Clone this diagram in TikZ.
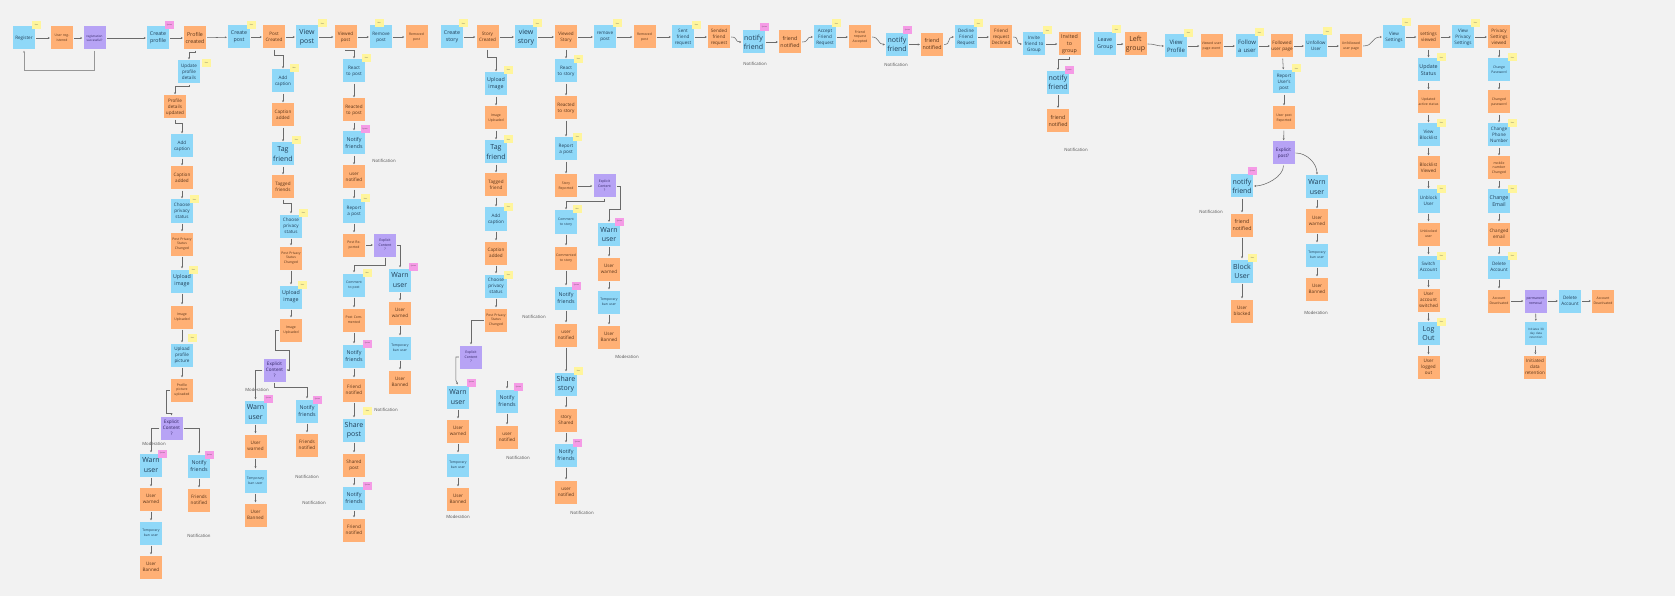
\documentclass[tikz,border=0pt]{standalone}
\usepackage{fontspec}
\setmainfont{Open Sans}
\usetikzlibrary{arrows.meta}
\definecolor{bgc}{HTML}{F2F2F2}
\definecolor{bluec}{HTML}{8FD8F8}
\definecolor{orac}{HTML}{FFB075}
\definecolor{purc}{HTML}{B7A3F5}
\definecolor{pinkc}{HTML}{F59BE6}
\definecolor{yelc}{HTML}{FFF59C}
\definecolor{linec}{HTML}{6A6A6A}
\definecolor{bluet}{HTML}{21405A}
\definecolor{orat}{HTML}{5A3418}
\definecolor{purt}{HTML}{2E2060}
\definecolor{labc}{HTML}{505050}
\begin{document}
\begin{tikzpicture}[x=1pt,y=-1pt,
  note/.style={minimum width=22pt,minimum height=23pt,inner sep=0pt,text width=21.5pt,align=center},
  bn/.style={note,fill=bluec,text=bluet},
  on/.style={note,fill=orac,text=orat},
  pn/.style={note,fill=purc,text=purt},
  fx/.style={font=\fontsize{3}{4}\selectfont},
  ft/.style={font=\fontsize{3.4}{4.6}\selectfont},
  fs/.style={font=\fontsize{4.6}{6}\selectfont},
  fm/.style={font=\fontsize{5.3}{7}\selectfont},
  fb/.style={font=\fontsize{6}{8}\selectfont},
  fl/.style={font=\fontsize{7}{9.2}\selectfont},
  tg/.style={minimum width=9pt,minimum height=8pt,inner sep=0pt,font=\fontsize{1.6}{1.8}\selectfont,text=black!70},
  ty/.style={tg,fill=yelc},
  tp/.style={tg,fill=pinkc},
  lab/.style={font=\fontsize{4.3}{5}\selectfont,text=labc,inner sep=0pt},
  ar/.style={draw=linec,line width=0.55pt,-{Stealth[length=2pt,width=2pt]},shorten >=1pt,shorten <=1pt}
]
\fill[bgc] (0,0) rectangle (1675,596);
\useasboundingbox (0,0) rectangle (1675,596);

% ---------- top row ----------
\node[bn,fs] (reg) at (24,38) {Register};
\node[on,ft] (ureg) at (62,38) {User registered};
\node[pn,fx] (regok) at (94.5,38) {registration successful?};
\node[bn,fm] (cprof) at (158,38) {Create profile};
\node[on,fm] (profc) at (195,38) {Profile created};
\node[bn,fm] (cpost) at (239,37) {Create post};
\node[on,fs] (postc) at (274,37) {Post Created};
\node[bn,fl] (vpost) at (307,37) {View post};
\node[on,fs] (vdpost) at (345.5,37) {Viewed post};
\node[bn,fs] (rmpost) at (381,37) {Remove post};
\node[on,ft] (rmdpost) at (416.5,37) {Removed post};
\node[bn,fm] (cstory) at (452,37) {Create story};
\node[on,fs] (storyc) at (487.5,37) {Story Created};
\node[bn,fl] (vstory) at (526,37) {view story};
\node[on,fs] (vdstory) at (566,37) {Viewed Story};
\node[bn,fs] (rmpost2) at (605,37) {remove post};
\node[on,ft] (rmdpost2) at (644.5,37) {Removed post};
\node[bn,fs] (sfr) at (683,37) {Sent friend request};
\node[on,fs] (sdfr) at (719,37) {Sended friend request};
\node[bn,fl] (nf1) at (753.5,42) {notify friend};
\node[on,fm] (fn1) at (790,42) {friend notified};
\node[bn,fs] (afr) at (825,37) {Accept Friend Request};
\node[on,ft] (fra) at (860,37) {Friend request Accepted};
\node[bn,fl] (nf2) at (897,44.5) {notify friend};
\node[on,fm] (fn2) at (932,44.5) {friend notified};
\node[bn,fs] (dfr) at (966,37) {Decline Friend Request};
\node[on,fs] (frd) at (1001,37) {Friend request Declined};
\node[bn,fs] (ifg) at (1034,44) {Invite friend to Group};
\node[on,fm] (itg) at (1069.5,44) {Invited to group};
\node[bn,fm] (lg) at (1105,44) {Leave Group};
\node[on,fl] (lfg) at (1135.5,44) {Left group};
\node[bn,fb] (vprof) at (1176,46) {View Profile};
\node[on,ft] (vupe) at (1211.5,46) {Viewed user page event};
\node[bn,fb] (fau) at (1247,46) {Follow a user};
\node[on,fs] (fup) at (1282,46) {Followed user page};
\node[bn,fs] (ufu) at (1316,46) {Unfollow User};
\node[on,ft] (ufup) at (1351,46) {Unfollowed user page};
\node[bn,fs] (vset) at (1394,37) {View Settings};
\node[on,fs] (setv) at (1428.5,37) {settings viewed};
\node[bn,fs] (vps) at (1463,37) {View Privacy Settings};
\node[on,fs] (psv) at (1499,37) {Privacy Settings viewed};

% ---------- profile column ----------
\node[bn,fs] (upd) at (189,72) {Update profile details};
\node[on,fs] (pdu) at (175,107) {Profile details updated};
\node[bn,fs] (addc1) at (182,146) {Add caption};
\node[on,fs] (capa1) at (182,178) {Caption added};
\node[bn,fs] (cps1) at (182,211) {Choose privacy status};
\node[on,ft] (ppsc1) at (182,244) {Post Privacy Status Changed};
\node[bn,fm] (upi1) at (182,281) {Upload image};
\node[on,ft] (imu1) at (182,317) {Image Uploaded};
\node[bn,fs] (upp) at (182,355) {Upload profile picture};
\node[on,ft] (ppu) at (182,390) {Profile picture uploaded};
\node[pn,fs] (exp1) at (171.5,428) {Explicit\\Content\\?};
\node[bn,fl] (warn1) at (151,465) {Warn user};
\node[on,fs] (uw1) at (151,499) {User warned};
\node[bn,ft] (tb1) at (151,533) {Temporary ban user};
\node[on,fs] (ub1) at (151,567) {User Banned};
\node[bn,fm] (ntf1) at (199,466) {Notify friends};
\node[on,fs] (fnd1) at (199,500) {Friends notified};

% ---------- post column ----------
\node[bn,fs] (addc2) at (283,81) {Add caption};
\node[on,fs] (capa2) at (283,115) {Caption added};
\node[bn,fl] (tagf2) at (283,154) {Tag friend};
\node[on,fs] (tgd2) at (283,187) {Tagged friends};
\node[bn,fs] (cps2) at (291,226) {Choose privacy status};
\node[on,ft] (ppsc2) at (291,258) {Post Privacy Status Changed};
\node[bn,fm] (upi2) at (291,297) {Upload image};
\node[on,ft] (imu2) at (291,330) {Image Uploaded};
\node[pn,fs] (exp2) at (274.5,370) {Explicit\\Content\\?};
\node[bn,fl] (warn2) at (255.5,412) {Warn user};
\node[on,fs] (uw2) at (255.5,446) {User warned};
\node[bn,ft] (tb2) at (255.5,481) {Temporary ban user};
\node[on,fs] (ub2) at (255.5,515) {User Banned};
\node[bn,fm] (ntf2) at (307,411) {Notify friends};
\node[on,fs] (fnd2) at (307,445) {Friends notified};

% ---------- viewed post column ----------
\node[bn,fs] (rtp) at (354,71) {React to post};
\node[on,fs] (rdp) at (354,110) {Reacted to post};
\node[bn,fm] (ntf3) at (354,143) {Notify friends};
\node[on,fs] (un3) at (354,177) {user notified};
\node[bn,fs] (rap) at (354,211) {Report a post};
\node[on,ft] (prep) at (354,245) {Post Reported};
\node[pn,ft] (exp3) at (385,245) {Explicit\\Content\\?};
\node[bn,fl] (warn3) at (400,280) {Warn user};
\node[on,fs] (uw3) at (400,313) {User warned};
\node[bn,ft] (tb3) at (400,348) {Temporary ban user};
\node[on,fs] (ub3) at (400,382) {User Banned};
\node[bn,ft] (ctp) at (354,285) {Comment to post};
\node[on,ft] (pcom) at (354,320) {Post Commented};
\node[bn,fm] (ntf4) at (354,356) {Notify friends};
\node[on,fs] (fn4) at (354,390) {Friend notified};
\node[bn,fl] (shp) at (354,430) {Share post};
\node[on,fs] (sdp) at (354,465) {Shared post};
\node[bn,fm] (ntf5) at (354,498) {Notify friends};
\node[on,fs] (fn5) at (354,530) {Friend notified};

% ---------- story column ----------
\node[bn,fm] (upi3) at (496,84) {Upload image};
\node[on,ft] (imu3) at (496,118) {Image Uploaded};
\node[bn,fl] (tagf3) at (496,152) {Tag friend};
\node[on,fs] (tgd3) at (496,185) {Tagged friend};
\node[bn,fs] (addc3) at (496,219) {Add caption};
\node[on,fs] (capa3) at (496,253) {Caption added};
\node[bn,fs] (cps3) at (496,286) {Choose privacy status};
\node[on,ft] (ppsc3) at (496,320) {Post Privacy Status Changed};
\node[pn,ft] (exp4) at (471,357) {Explicit\\Content\\?};
\node[bn,fl] (warn4) at (458,397) {Warn user};
\node[on,fs] (uw4) at (458,431) {User warned};
\node[bn,ft] (tb4) at (458,465) {Temporary ban user};
\node[on,fs] (ub4) at (458,499) {User Banned};
\node[bn,fm] (ntf6) at (507,401) {Notify friends};
\node[on,fs] (un6) at (507,437) {user notified};

% ---------- viewed story column ----------
\node[bn,fs] (rts) at (566,71) {React to story};
\node[on,fs] (rds) at (566,108) {Reacted to story};
\node[bn,fs] (rap2) at (566,149) {Report a post};
\node[on,ft] (srep) at (566,186) {Story Reported};
\node[pn,ft] (exp5) at (604.5,186) {Explicit\\Content\\?};
\node[bn,fl] (warn5) at (609,234.5) {Warn user};
\node[on,fs] (uw5) at (609,269) {User warned};
\node[bn,ft] (tb5) at (609,302) {Temporary ban user};
\node[on,fs] (ub5) at (609,337) {User Banned};
\node[bn,ft] (cts) at (566,222) {Comment to story};
\node[on,ft] (cds) at (566,258) {Commented to story};
\node[bn,fm] (ntf7) at (566,298) {Notify friends};
\node[on,fs] (un7) at (566,335) {user notified};
\node[bn,fl] (shs) at (566,384) {Share story};
\node[on,fs] (ssh) at (566,420) {story Shared};
\node[bn,fm] (ntf8) at (566,455) {Notify friends};
\node[on,fs] (un8) at (566,492) {user notified};

% ---------- invite column ----------
\node[bn,fl] (nf3) at (1058,82.5) {notify friend};
\node[on,fm] (fn3) at (1058,120.5) {friend notified};

% ---------- follow column ----------
\node[bn,fs] (rup) at (1284,82) {Report User's post};
\node[on,ft] (upr) at (1284,118) {User post Reported};
\node[pn,fs] (expp) at (1283.5,153) {Explicit post?};
\node[bn,fl] (nf4) at (1242,186) {notify friend};
\node[on,fm] (fn4b) at (1242,225) {friend notified};
\node[bn,fl] (blk) at (1242,271) {Block User};
\node[on,fs] (ublk) at (1242,311) {User blocked};
\node[bn,fl] (warn6) at (1317,187) {Warn user};
\node[on,fs] (uw6) at (1317,221) {User warned};
\node[bn,ft] (tb6) at (1317,255) {Temporary ban user};
\node[on,fs] (ub6) at (1317,289) {User Banned};

% ---------- settings columns ----------
\node[bn,fm] (upst) at (1428.5,70) {Update Status};
\node[on,ft] (uast) at (1428.5,102) {Updated active status};
\node[bn,fs] (vbl) at (1428.5,135) {View Blocklist};
\node[on,fs] (blv) at (1428.5,168) {Blocklist Viewed};
\node[bn,fs] (ubu) at (1428.5,201) {Unblock User};
\node[on,ft] (ubd) at (1428.5,234) {Unblocked user};
\node[bn,fs] (swa) at (1428.5,267) {Switch Account};
\node[on,fs] (uasw) at (1428.5,300) {User account switched};
\node[bn,fl] (lo) at (1428.5,333.5) {Log Out};
\node[on,fs] (ulo) at (1428.5,367) {User logged out};
\node[bn,ft] (chp) at (1499,70) {Change Password};
\node[on,ft] (cdp) at (1499,102) {Changed password};
\node[bn,fs] (chn) at (1499,135) {Change Phone Number};
\node[on,ft] (mnc) at (1499,168) {mobile number Changed};
\node[bn,fm] (che) at (1499,201) {Change Email};
\node[on,fs] (cde) at (1499,234) {Changed email};
\node[bn,fs] (dla) at (1499,267) {Delete Account};
\node[on,ft] (adc) at (1499,301) {Account Deactivated};
\node[pn,ft] (prm) at (1535.5,301) {permanent removal};
\node[bn,fs] (dla2) at (1570,301) {Delete Account};
\node[on,ft] (add2) at (1603,301) {Account Deactivated};
\node[bn,fx] (i30) at (1536,333.5) {Initiates 30 day data retention};
\node[on,fs] (idr) at (1535,367) {Initiated data retention};

% ---------- labels ----------
\foreach \n/\x/\y in {1/199/536,2/307/477,3/314/503,4/384/161,5/386/410,6/534/317,7/518/458,8/582/513,9/755/64,10/896/65,11/1076/150,12/1211/212}
  \node[lab] (ln\n) at (\x,\y) {Notification};
\foreach \n/\x/\y in {1/154/444,2/257/390,3/458/517,4/627/357,5/1316/313}
  \node[lab] (lm\n) at (\x,\y) {Moderation};

% ---------- tags ----------
\foreach \n/\x/\y in {1/36.5/25,2/251.5/25,3/206.5/63,4/194.5/199.5,5/193.5/270,6/192.5/338,7/322.5/23.5,8/379/23,9/463.5/23.5,10/537.5/23.5,11/294/68,12/296.5/140,13/303.5/213,14/302.5/284.5,15/366.5/58,16/365.5/198.5,17/367/273,18/367.5/410.5,19/508.5/70,20/508.5/139.5,21/508.5/207,22/508.5/275,23/578.5/59,24/577.5/137,25/577/209,26/578.5/370.5,27/617.5/23.5,28/696.5/25,29/836.5/23.5,30/978.5/23.5,31/1047.5/30.5,32/1116.5/29.5,33/1188.5/33,34/1259.5/32.5,35/1327.5/31.5,36/1406.5/22.5,37/1296.5/68.5,38/1252.5/257.5,39/1475.5/23,40/1441.5/57.5,41/1441.5/123,42/1441.5/189,43/1441.5/256,44/1441.5/321.5,45/1512.5/57.5,46/1512.5/123,47/1512.5/189,48/1512.5/256}
  \node[ty] (ty\n) at (\x,\y) {User};
\foreach \n/\x/\y in {1/169.5/25,2/162.5/453.5,3/209.5/455,4/268.5/398.5,5/317.5/399.5,6/365/129.5,7/413.5/266.5,8/367.5/343.5,9/367.5/485.5,10/471.5/382.5,11/518.5/387,12/619.5/221.5,13/576.5/285.5,14/577.5/442.5,15/764.5/27.5,16/907.5/30.5,17/1069/70,18/1252.5/171.5}
  \node[tp] (tp\n) at (\x,\y) {System};

% ---------- straight connectors ----------
\foreach \a/\b in {reg/ureg,ureg/regok,regok/cprof,cprof/profc,profc/cpost,cpost/postc,postc/vpost,vpost/vdpost,vdpost/rmpost,rmpost/rmdpost,cstory/storyc,storyc/vstory,vstory/vdstory,vdstory/rmpost2,rmpost2/rmdpost2,rmdpost2/sfr,sfr/sdfr,nf1/fn1,afr/fra,nf2/fn2,dfr/frd,ifg/itg,lg/lfg,vprof/vupe,vupe/fau,fau/fup,fup/ufu,ufu/ufup,vset/setv,setv/vps,vps/psv,
  addc1/capa1,capa1/cps1,cps1/ppsc1,ppsc1/upi1,upi1/imu1,imu1/upp,upp/ppu,warn1/uw1,uw1/tb1,tb1/ub1,ntf1/fnd1,
  addc2/capa2,capa2/tagf2,tagf2/tgd2,cps2/ppsc2,ppsc2/upi2,upi2/imu2,warn2/uw2,uw2/tb2,tb2/ub2,ntf2/fnd2,
  rtp/rdp,rdp/ntf3,ntf3/un3,un3/rap,rap/prep,prep/exp3,warn3/uw3,uw3/tb3,tb3/ub3,ctp/pcom,pcom/ntf4,ntf4/fn4,fn4/shp,shp/sdp,sdp/ntf5,ntf5/fn5,
  upi3/imu3,imu3/tagf3,tagf3/tgd3,tgd3/addc3,addc3/capa3,capa3/cps3,cps3/ppsc3,warn4/uw4,uw4/tb4,tb4/ub4,ntf6/un6,
  vdstory/rts,rts/rds,rds/rap2,rap2/srep,srep/exp5,warn5/uw5,uw5/tb5,tb5/ub5,cts/cds,cds/ntf7,ntf7/un7,un7/shs,shs/ssh,ssh/ntf8,ntf8/un8,
  nf3/fn3,fup/rup,rup/upr,upr/expp,nf4/fn4b,fn4b/blk,blk/ublk,warn6/uw6,uw6/tb6,tb6/ub6,
  setv/upst,upst/uast,uast/vbl,vbl/blv,blv/ubu,ubu/ubd,ubd/swa,swa/uasw,uasw/lo,lo/ulo,
  psv/chp,chp/cdp,cdp/chn,chn/mnc,mnc/che,che/cde,cde/dla,dla/adc,adc/prm,prm/dla2,dla2/add2,prm/i30,i30/idr}
  \draw[ar] (\a) -- (\b);

% ---------- curved top-row connectors ----------
\draw[ar] (sdfr.east) .. controls +(8,0) and +(-8,0) .. (nf1.west);
\draw[ar] (fn1.east) .. controls +(8,0) and +(-8,0) .. (afr.west);
\draw[ar] (fra.east) .. controls +(8,0) and +(-8,0) .. (nf2.west);
\draw[ar] (fn2.east) .. controls +(8,0) and +(-8,0) .. (dfr.west);
\draw[ar] (frd.east) .. controls +(8,0) and +(-8,0) .. (ifg.west);
\draw[ar] (lfg.east) .. controls +(9,0) and +(-9,0) .. (vprof.west);
\draw[ar] (ufup.east) .. controls +(12,0) and +(-12,0) .. (vset.west);

% ---------- elbow connectors ----------
\draw[ar,draw=linec!70] (regok.south) -- ++(0,21) -| (reg.south);
\draw[ar] (profc.south) -- ++(0,2.5) -| (upd.north);
\draw[ar] (upd.south) -- ++(0,3) -| (pdu.north);
\draw[ar] (pdu.south) -- ++(0,5) -| (addc1.north);
\draw[ar] (ppu.west) -- ++(-5,0) -- ++(0,23) -| (exp1.north);
\draw[ar] (exp1.west) -| (warn1.north);
\draw[ar] (exp1.east) -| (ntf1.north);

\draw[ar] (postc.south) -- ++(0,7) -| (addc2.north);
\draw[ar] (tgd2.south) -- ++(0,5) -| (cps2.north);
\draw[ar] (imu2.west) -- ++(-5,0) -- ++(0,20) -- ++(14,0) |- (exp2.east);
\draw[ar] (exp2.west) -| (warn2.north);
\draw[ar] (exp2.south) -- ++(0,6) -| (ntf2.north);

\draw[ar] (vdpost.south) -- ++(0,2) -| (rtp.north);
\draw[ar] (exp3.east) -| (warn3.north);
\draw[ar] (exp3.south) -- ++(0,9) -| (ctp.north);

\draw[ar] (storyc.south) -- ++(0,9) -| (upi3.north);
\draw[ar] (ppsc3.west) -| (exp4.north);
\draw[ar] (exp4.west) -- ++(-4,0) -- ++(0,23) -- (warn4.north);
\coordinate (s6) at (507,380);
\draw[ar] (s6) -- (ntf6.north);

\draw[ar] (exp5.east) -- ++(5,0) -- ++(0,23) -| (warn5.north);
\draw[ar] (exp5.south) -- ++(0,4) -| (cts.north);

\draw[ar] (itg.south) -- ++(0,4) -| (nf3.north);

\draw[ar] (expp.south) .. controls +(0,12) and +(12,0) .. (nf4.east);
\draw[ar] (expp.east) .. controls +(12,0) and +(0,-12) .. (warn6.north);
\end{tikzpicture}
\end{document}
